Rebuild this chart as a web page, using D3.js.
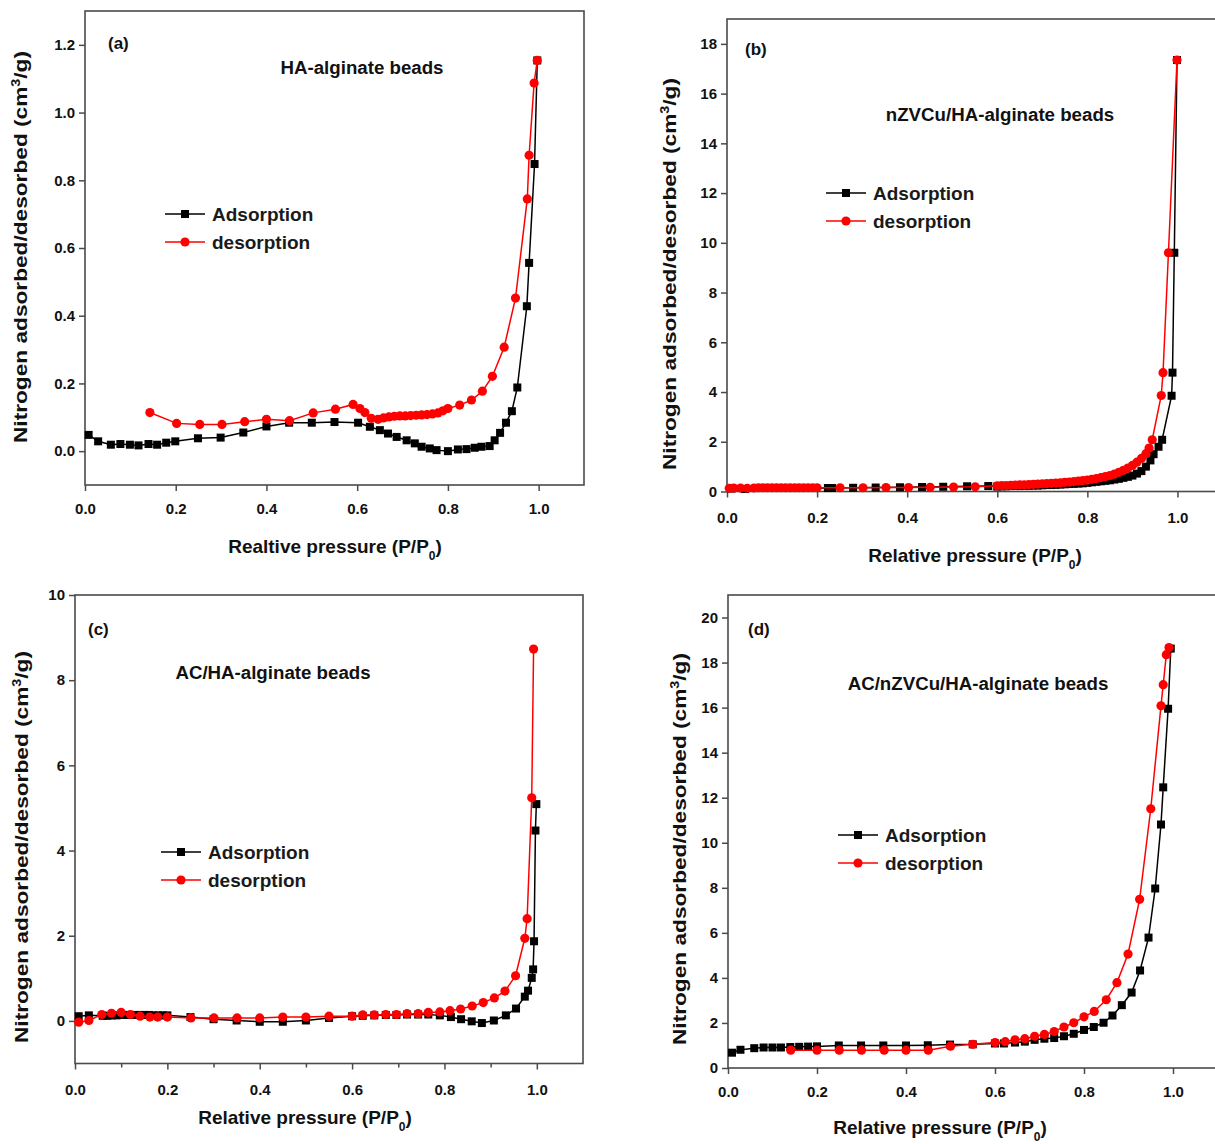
<!DOCTYPE html>
<html><head><meta charset="utf-8">
<script src="https://cdn.jsdelivr.net/npm/d3@7"></script>
<style>
html,body{margin:0;padding:0;background:#fff;}
svg{display:block;font-family:"Liberation Sans",Arial,sans-serif;}
</style></head>
<body>
<svg id="chart" width="1215" height="1144"></svg>
<script>
// ---------------- DATA ----------------
const xTicks = [0, 0.2, 0.4, 0.6, 0.8, 1.0];
const xMinorTicksC = [0.1, 0.3, 0.5, 0.7, 0.9];
const yTicksA = [0, 0.2, 0.4, 0.6, 0.8, 1.0, 1.2];
const yTicksB = [0, 2, 4, 6, 8, 10, 12, 14, 16, 18];
const yTicksC = [0, 2, 4, 6, 8, 10];
const yTicksD = [0, 2, 4, 6, 8, 10, 12, 14, 16, 18, 20];
const seriesNames = ["Adsorption", "desorption"];
const panelLetters = ["(a)", "(b)", "(c)", "(d)"];
const panelTitles = ["HA-alginate beads", "nZVCu/HA-alginate beads", "AC/HA-alginate beads", "AC/nZVCu/HA-alginate beads"];
const xLabels = ["Realtive pressure (P/P", "Relative pressure (P/P", "Relative pressure (P/P", "Relative pressure (P/P"];

// (a) HA-alginate beads
const adsA = [[0.008,0.048],[0.029,0.029],[0.057,0.019],[0.078,0.021],[0.099,0.019],[0.118,0.017],[0.14,0.021],[0.159,0.019],[0.179,0.025],[0.199,0.029],[0.249,0.038],[0.299,0.040],[0.349,0.055],[0.40,0.073],[0.45,0.084],[0.50,0.084],[0.55,0.086],[0.602,0.084],[0.628,0.072],[0.65,0.062],[0.668,0.052],[0.687,0.042],[0.709,0.032],[0.727,0.023],[0.742,0.013],[0.76,0.008],[0.775,0.003],[0.80,0.0],[0.822,0.005],[0.841,0.006],[0.859,0.010],[0.874,0.013],[0.892,0.015],[0.903,0.032],[0.915,0.054],[0.928,0.084],[0.941,0.118],[0.953,0.188],[0.974,0.428],[0.979,0.556],[0.991,0.848],[0.997,1.154]];
const desA = [[0.143,0.114],[0.202,0.082],[0.253,0.079],[0.302,0.079],[0.352,0.087],[0.40,0.094],[0.451,0.090],[0.503,0.113],[0.552,0.124],[0.591,0.138],[0.606,0.126],[0.617,0.114],[0.631,0.097],[0.646,0.094],[0.658,0.098],[0.670,0.101],[0.682,0.103],[0.694,0.104],[0.706,0.104],[0.718,0.105],[0.730,0.106],[0.742,0.107],[0.754,0.108],[0.766,0.110],[0.778,0.113],[0.789,0.119],[0.80,0.126],[0.826,0.136],[0.852,0.151],[0.876,0.177],[0.898,0.221],[0.924,0.307],[0.949,0.452],[0.975,0.745],[0.979,0.874],[0.99,1.087],[0.997,1.154]];

// (b) nZVCu/HA-alginate beads
const adsB = [[0.01,0.12],[0.04,0.10],[0.224,0.14],[0.233,0.14],[0.28,0.15],[0.33,0.16],[0.384,0.17],[0.433,0.18],[0.48,0.19],[0.533,0.21],[0.58,0.22],[0.60,0.20],[0.61,0.21],[0.62,0.21],[0.63,0.22],[0.64,0.22],[0.65,0.22],[0.66,0.23],[0.67,0.23],[0.68,0.24],[0.69,0.24],[0.70,0.25],[0.71,0.26],[0.72,0.26],[0.73,0.27],[0.74,0.28],[0.75,0.29],[0.76,0.30],[0.77,0.31],[0.78,0.32],[0.79,0.33],[0.80,0.35],[0.81,0.37],[0.82,0.39],[0.83,0.41],[0.84,0.43],[0.85,0.45],[0.86,0.48],[0.87,0.51],[0.88,0.55],[0.89,0.59],[0.90,0.64],[0.91,0.72],[0.92,0.82],[0.93,1.0],[0.94,1.25],[0.947,1.5],[0.958,1.8],[0.966,2.08],[0.987,3.85],[0.989,4.78],[0.993,9.6],[0.999,17.35]];
const desB = [[0.005,0.13],[0.015,0.14],[0.03,0.14],[0.045,0.13],[0.06,0.14],[0.07,0.15],[0.08,0.15],[0.09,0.15],[0.10,0.15],[0.11,0.15],[0.12,0.15],[0.13,0.15],[0.14,0.15],[0.15,0.15],[0.16,0.15],[0.17,0.15],[0.18,0.15],[0.19,0.15],[0.20,0.15],[0.251,0.15],[0.302,0.15],[0.353,0.16],[0.403,0.16],[0.451,0.17],[0.503,0.18],[0.551,0.19],[0.60,0.23],[0.61,0.24],[0.62,0.24],[0.63,0.25],[0.64,0.26],[0.65,0.27],[0.66,0.27],[0.67,0.28],[0.68,0.29],[0.69,0.30],[0.70,0.31],[0.71,0.32],[0.72,0.33],[0.73,0.34],[0.74,0.35],[0.75,0.37],[0.76,0.38],[0.77,0.40],[0.78,0.42],[0.79,0.44],[0.80,0.46],[0.81,0.49],[0.82,0.52],[0.83,0.56],[0.84,0.60],[0.85,0.64],[0.86,0.70],[0.87,0.77],[0.88,0.85],[0.89,0.94],[0.90,1.05],[0.91,1.18],[0.92,1.33],[0.93,1.52],[0.937,1.75],[0.944,2.08],[0.964,3.86],[0.968,4.78],[0.98,9.6],[0.999,17.35]];

// (c) AC/HA-alginate beads
const adsC = [[0.008,0.11],[0.03,0.13],[0.06,0.12],[0.07,0.12],[0.08,0.13],[0.09,0.13],[0.10,0.14],[0.11,0.14],[0.12,0.14],[0.13,0.14],[0.14,0.14],[0.15,0.14],[0.16,0.14],[0.17,0.13],[0.18,0.13],[0.19,0.13],[0.20,0.13],[0.25,0.09],[0.30,0.04],[0.35,0.01],[0.40,-0.02],[0.45,-0.02],[0.50,0.01],[0.55,0.07],[0.60,0.11],[0.623,0.12],[0.648,0.13],[0.673,0.14],[0.696,0.14],[0.719,0.15],[0.743,0.15],[0.765,0.15],[0.79,0.13],[0.814,0.09],[0.836,0.04],[0.859,-0.01],[0.881,-0.05],[0.907,0.01],[0.933,0.13],[0.955,0.29],[0.974,0.57],[0.981,0.71],[0.989,1.01],[0.992,1.21],[0.994,1.87],[0.997,4.47],[0.999,5.09]];
const desC = [[0.008,-0.03],[0.03,0.01],[0.058,0.15],[0.079,0.18],[0.10,0.20],[0.12,0.15],[0.141,0.11],[0.162,0.09],[0.179,0.09],[0.20,0.09],[0.251,0.07],[0.301,0.07],[0.351,0.07],[0.40,0.07],[0.45,0.09],[0.50,0.09],[0.55,0.11],[0.60,0.11],[0.623,0.14],[0.648,0.14],[0.673,0.15],[0.696,0.15],[0.719,0.17],[0.743,0.17],[0.765,0.20],[0.79,0.21],[0.812,0.24],[0.835,0.28],[0.86,0.35],[0.884,0.43],[0.908,0.54],[0.931,0.70],[0.954,1.06],[0.974,1.94],[0.979,2.40],[0.989,5.24],[0.993,8.73]];

// (d) AC/nZVCu/HA-alginate beads
const adsD = [[0.009,0.68],[0.028,0.81],[0.059,0.88],[0.08,0.91],[0.10,0.91],[0.119,0.91],[0.14,0.93],[0.16,0.94],[0.18,0.95],[0.20,0.96],[0.249,1.0],[0.299,1.0],[0.349,1.0],[0.40,1.0],[0.449,1.01],[0.499,1.04],[0.55,1.05],[0.60,1.09],[0.62,1.09],[0.645,1.13],[0.667,1.17],[0.689,1.25],[0.711,1.30],[0.733,1.33],[0.755,1.41],[0.777,1.52],[0.80,1.69],[0.822,1.82],[0.844,2.01],[0.864,2.33],[0.885,2.79],[0.907,3.35],[0.926,4.33],[0.945,5.79],[0.96,7.97],[0.973,10.81],[0.978,12.46],[0.989,15.95],[0.995,18.62]];
const desD = [[0.141,0.79],[0.20,0.79],[0.25,0.79],[0.30,0.79],[0.351,0.79],[0.40,0.79],[0.45,0.79],[0.50,0.97],[0.55,1.05],[0.60,1.13],[0.623,1.17],[0.645,1.25],[0.667,1.30],[0.689,1.41],[0.711,1.49],[0.733,1.62],[0.755,1.82],[0.777,2.01],[0.80,2.27],[0.823,2.51],[0.85,3.03],[0.874,3.79],[0.899,5.06],[0.925,7.49],[0.95,11.51],[0.973,16.08],[0.978,17.02],[0.985,18.35],[0.991,18.67]];

// ---------------- LAYOUT ----------------
const panels = [
  {ads: adsA, des: desA, yTicks: yTicksA, yFmt: ".1f", minor: [],
   frame: {x0: 85, x1: 584, y0: 11, y1: 485}, yDom: [-0.1, 1.3],
   letter: [108, 49], title: [362, 74], legend: [165, 214], yLab: [27, 247], xLab: [335, 553], tickBase: 514},
  {ads: adsB, des: desB, yTicks: yTicksB, yFmt: "d", minor: [],
   frame: {x0: 727, x1: 1222.5, y0: 19, y1: 491.5}, yDom: [0, 19],
   letter: [745, 55], title: [1000, 121], legend: [826, 193], yLab: [676, 274], xLab: [975, 562], tickBase: 523},
  {ads: adsC, des: desC, yTicks: yTicksC, yFmt: "d", minor: xMinorTicksC,
   frame: {x0: 75, x1: 583, y0: 595, y1: 1063.5}, yDom: [-1, 10],
   letter: [88, 635], title: [273, 679], legend: [161, 852], yLab: [28, 847], xLab: [305, 1124], tickBase: 1095},
  {ads: adsD, des: desD, yTicks: yTicksD, yFmt: "d", minor: [],
   frame: {x0: 728, x1: 1217.5, y0: 595, y1: 1068}, yDom: [0, 21],
   letter: [748, 635], title: [978, 690], legend: [838, 835], yLab: [686, 849], xLab: [940, 1134], tickBase: 1097}
];

const svg = d3.select("#chart");
const frameColor = "#4a4a4a";
const tickFont = 15;

panels.forEach((p, i) => {
  const f = p.frame;
  const x = d3.scaleLinear().domain([0, 1.1]).range([f.x0, f.x1]);
  const y = d3.scaleLinear().domain(p.yDom).range([f.y1, f.y0]);
  const g = svg.append("g");

  // frame
  g.append("rect").attr("x", f.x0).attr("y", f.y0)
    .attr("width", f.x1 - f.x0).attr("height", f.y1 - f.y0)
    .attr("fill", "none").attr("stroke", frameColor).attr("stroke-width", 1.6);

  // x axis
  const xAx = g.append("g").attr("transform", `translate(0,${f.y1})`)
    .call(d3.axisBottom(x).tickValues(xTicks).tickFormat(d3.format(".1f")).tickSize(6).tickSizeOuter(0));
  xAx.select(".domain").remove();
  xAx.selectAll("line").attr("stroke", frameColor).attr("stroke-width", 1.5);
  xAx.selectAll("text").attr("font-size", tickFont).attr("font-weight", "bold").attr("fill", "#111")
    .attr("dy", null).attr("y", p.tickBase - f.y1).attr("font-family", "Liberation Sans, Arial, sans-serif");
  if (p.minor.length) {
    const mAx = g.append("g").attr("transform", `translate(0,${f.y1})`)
      .call(d3.axisBottom(x).tickValues(p.minor).tickFormat("").tickSize(4).tickSizeOuter(0));
    mAx.select(".domain").remove();
    mAx.selectAll("line").attr("stroke", frameColor).attr("stroke-width", 1.5);
  }

  // y axis
  const yAx = g.append("g").attr("transform", `translate(${f.x0},0)`)
    .call(d3.axisLeft(y).tickValues(p.yTicks).tickFormat(d3.format(p.yFmt)).tickSize(6).tickSizeOuter(0));
  yAx.select(".domain").remove();
  yAx.selectAll("line").attr("stroke", frameColor).attr("stroke-width", 1.5);
  yAx.selectAll("text").attr("font-size", tickFont).attr("font-weight", "bold").attr("fill", "#111")
    .attr("x", -10).attr("font-family", "Liberation Sans, Arial, sans-serif");

  // lines and markers
  const line = d3.line().x(d => x(d[0])).y(d => y(d[1]));
  const dg = g.append("g");
  dg.append("path").datum(p.ads).attr("d", line).attr("fill", "none").attr("stroke", "#000").attr("stroke-width", 1.5);
  dg.selectAll("rect.ads").data(p.ads).join("rect").attr("class", "ads")
    .attr("x", d => x(d[0]) - 4).attr("y", d => y(d[1]) - 4).attr("width", 8).attr("height", 8).attr("fill", "#000");
  dg.append("path").datum(p.des).attr("d", line).attr("fill", "none").attr("stroke", "#ff0000").attr("stroke-width", 1.5);
  dg.selectAll("circle.des").data(p.des).join("circle").attr("class", "des")
    .attr("cx", d => x(d[0])).attr("cy", d => y(d[1])).attr("r", 4.6).attr("fill", "#ff0000");

  // panel letter
  g.append("text").attr("x", p.letter[0]).attr("y", p.letter[1]).text(panelLetters[i])
    .attr("font-size", 17).attr("font-weight", "bold").attr("fill", "#111");
  // title
  g.append("text").attr("x", p.title[0]).attr("y", p.title[1]).text(panelTitles[i])
    .attr("text-anchor", "middle").attr("font-size", 18.7).attr("font-weight", "bold").attr("fill", "#111");

  // legend
  const [lx, ly] = p.legend;
  const legendRows = [
    {name: seriesNames[0], color: "#000", shape: "square"},
    {name: seriesNames[1], color: "#ff0000", shape: "circle"}
  ];
  legendRows.forEach((r, k) => {
    const yy = ly + k * 28;
    g.append("line").attr("x1", lx).attr("x2", lx + 40).attr("y1", yy).attr("y2", yy)
      .attr("stroke", r.color).attr("stroke-width", 1.5);
    if (r.shape === "square") {
      g.append("rect").attr("x", lx + 16).attr("y", yy - 4).attr("width", 8).attr("height", 8).attr("fill", r.color);
    } else {
      g.append("circle").attr("cx", lx + 20).attr("cy", yy).attr("r", 4.6).attr("fill", r.color);
    }
    g.append("text").attr("x", lx + 47).attr("y", yy + 7).text(r.name)
      .attr("font-size", 19).attr("font-weight", "bold").attr("fill", "#1a1a1a");
  });

  // y label
  const yl = g.append("text").attr("transform", `translate(${p.yLab[0]},${p.yLab[1]}) rotate(-90)`)
    .attr("text-anchor", "middle").attr("font-size", 19).attr("font-weight", "bold").attr("fill", "#111")
    .attr("textLength", 392).attr("lengthAdjust", "spacingAndGlyphs");
  yl.append("tspan").text("Nitrogen adsorbed/desorbed (cm");
  yl.append("tspan").text("3").attr("font-size", 12).attr("baseline-shift", "super");
  yl.append("tspan").text("/g)");

  // x label
  const xl = g.append("text").attr("x", p.xLab[0]).attr("y", p.xLab[1])
    .attr("text-anchor", "middle").attr("font-size", 19).attr("font-weight", "bold").attr("fill", "#111");
  xl.append("tspan").text(xLabels[i]);
  xl.append("tspan").text("0").attr("font-size", 12).attr("baseline-shift", "sub");
  xl.append("tspan").text(")");
});
</script>
</body></html>
